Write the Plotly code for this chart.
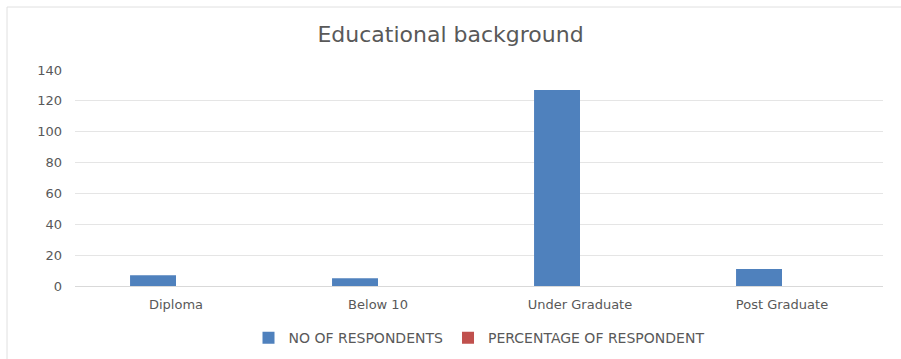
import plotly.graph_objects as go

categories = ["Diploma", "Below 10", "Under Graduate", "Post Graduate"]
respondents = [7, 5, 127, 11]
percentage = [0, 0, 0, 0]  # not visible in the picture (height ~0)
y_ticks = [0, 20, 40, 60, 80, 100, 120, 140]

fig = go.Figure()
fig.add_trace(go.Bar(x=categories, y=respondents, name="NO OF RESPONDENTS",
                     marker=dict(color="#4F81BD", line=dict(width=0))))
fig.add_trace(go.Bar(x=categories, y=percentage, name="PERCENTAGE OF RESPONDENT",
                     marker=dict(color="#C0504D", line=dict(width=0))))

fig.update_layout(
    width=901, height=359,
    margin=dict(l=75, r=18, t=70, b=73),
    paper_bgcolor="white", plot_bgcolor="white",
    barmode="group", bargap=0.545, bargroupgap=0,
    title=dict(text="Educational background", x=0.5, xanchor="center",
               y=0.905, yanchor="middle",
               font=dict(family="DejaVu Sans", size=22, color="#595959")),
    font=dict(family="DejaVu Sans", color="#595959"),
    showlegend=True,
    legend=dict(orientation="h", x=0.5, xanchor="center",
                yref="container", y=0.058, yanchor="middle",
                font=dict(size=14, color="#595959"), itemwidth=30, traceorder="normal"),
    xaxis=dict(showgrid=False, showline=True, linecolor="#D9D9D9", linewidth=1,
               ticks="", ticklabelstandoff=6, automargin=False,
               tickfont=dict(size=13, color="#595959")),
    yaxis=dict(range=[0, 140], tickvals=y_ticks, showgrid=True, gridcolor="#E5E5E5",
               gridwidth=1, zeroline=False, showline=False, ticks="", automargin=False,
               ticklabelstandoff=12, tickfont=dict(size=13, color="#595959")),
    shapes=[
        dict(type="line", xref="paper", yref="paper", x0=-68/808, x1=-68/808,
             y0=1 + 63/216, y1=-73/216, line=dict(color="#E0E0E0", width=1)),
        dict(type="line", xref="paper", yref="paper", x0=-68/808, x1=1 + 18/808,
             y0=1 + 63/216, y1=1 + 63/216, line=dict(color="#E0E0E0", width=1)),
    ],
)

fig.write_html("out.html")
